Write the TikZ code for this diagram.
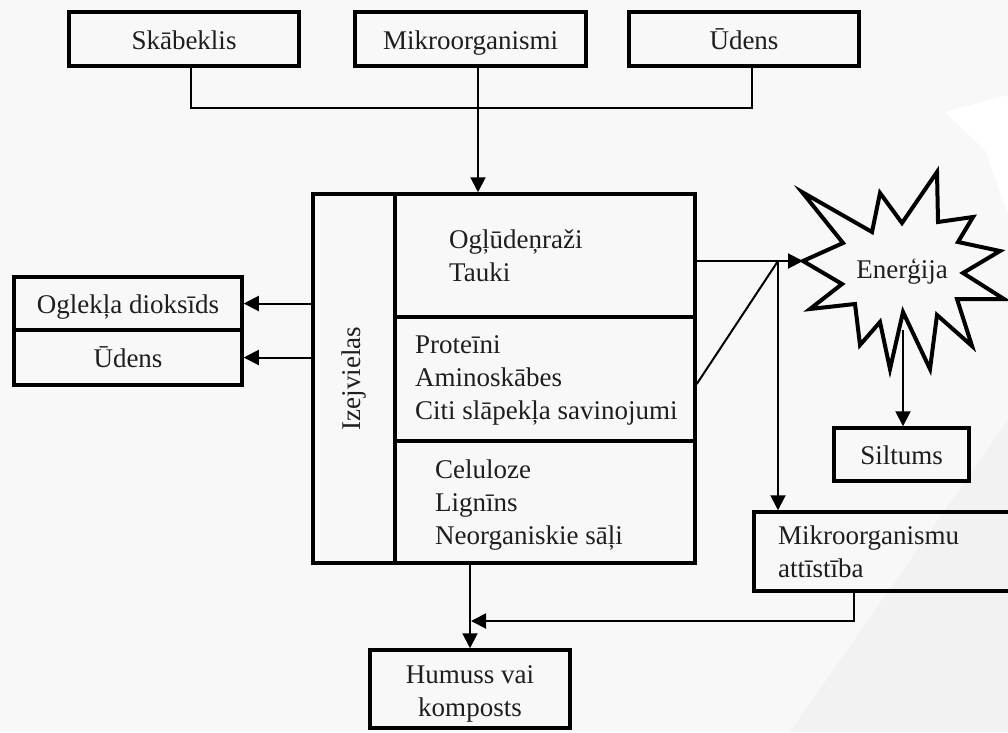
\documentclass[tikz,border=0pt]{standalone}
\usepackage{fontspec}
\setmainfont{Liberation Serif}
\usetikzlibrary{arrows.meta}
\definecolor{bggray}{HTML}{F8F8F8}
\definecolor{inkgray}{HTML}{1E1E1E}

\begin{document}
\begin{tikzpicture}[x=1pt,y=-1pt,
  font=\fontsize{27}{33}\selectfont,
  box/.style={draw,line width=3.5pt,inner sep=0pt,align=center,text=inkgray},
  oneline/.style={text height=24pt,text depth=4pt},
  conn/.style={line width=2pt},
  arr/.style={line width=2pt,-{Triangle[length=15pt,width=15pt]}},
  txt/.style={anchor=west,align=left,inner sep=0pt,text=inkgray}]
\useasboundingbox (0,0) rectangle (1008,732);
\fill[bggray] (0,0) rectangle (1008,732);
\clip (0,0) rectangle (1008,732);
% faint watermark at the right
\fill[black!5] (790,732) -- (1008,420) -- (1008,732) -- cycle;
\fill[white] (945,112) -- (1008,95) -- (1008,215) -- (985,150) -- cycle;

% inputs
\node[box,oneline,minimum width=230pt,minimum height=54pt] (skab) at (184,39) {Skābeklis};
\node[box,oneline,minimum width=231pt,minimum height=54pt] (mikro) at (470.5,39) {Mikroorganismi};
\node[box,oneline,minimum width=230pt,minimum height=54pt] (udens) at (744,39) {Ūdens};

% raw materials
\node[box,minimum width=82pt,minimum height=369pt] (izej) at (354,378.5) {\rotatebox{90}{Izejvielas}};
\node[box,minimum width=300pt,minimum height=123pt] (grpa) at (545,255.5) {};
\node[box,minimum width=300pt,minimum height=124pt] (grpb) at (545,379) {};
\node[box,minimum width=300pt,minimum height=122pt] (grpc) at (545,502) {};
\node[txt] (ta) at (449,256) {Ogļūdeņraži\\Tauki};
\node[txt] (tb) at (415,380) {Proteīni\\Aminoskābes\\Citi slāpekļa savinojumi};
\node[txt] (tc) at (435,505) {Celuloze\\Lignīns\\Neorganiskie sāļi};

% outputs on the left
\node[box,oneline,minimum width=228pt,minimum height=53pt] (ogl) at (128,303.5) {Oglekļa dioksīds};
\node[box,oneline,minimum width=228pt,minimum height=55pt] (udl) at (128,357.5) {Ūdens};

% energy
\draw[line width=4pt,line join=miter] (803,261) -- (843,243) -- (802,192) -- (872,232)
  -- (880,193) -- (902,223) -- (937,172) -- (938,222) -- (973,217) -- (958,242)
  -- (1000,251) -- (963,273) -- (1004,299) -- (957,299) -- (972,346) -- (937,315)
  -- (930,369) -- (903,312) -- (890,369) -- (880,322) -- (860,345) -- (855,304)
  -- (810,309) -- (842,284) -- cycle;
\node[text=inkgray] (energ) at (902,272) {Enerģija};
\coordinate (starw) at (803,261);
\coordinate (stars) at (903,330);
\node[box,oneline,minimum width=135pt,minimum height=53pt] (silt) at (901.5,454.5) {Siltums};
\node[box,minimum width=276pt,minimum height=79pt] (mat) at (892,551.5) {};
\node[txt] (tmat) at (778,552) {Mikroorganismu\\attīstība};
\node[box,minimum width=200pt,minimum height=78pt] (hum) at (470,689) {};
\node[text=inkgray,align=center,inner sep=0pt] (thum) at (470,694) {Humuss vai\\komposts};

% connectors
\coordinate (mk) at ([xshift=7.5pt]mikro.south);
\coordinate (jn) at (778,261);
\coordinate (mb) at ([xshift=-38pt]mat.south);
\coordinate (mrg) at (471,621);
\draw[conn] ([xshift=7pt]skab.south) -- ++(0,40) -| ([xshift=8pt]udens.south);
\draw[arr] (mk) -- (mk |- grpa.north);
\draw[arr] (izej.west |- ogl.east) -- (ogl.east);
\draw[arr] (izej.west |- udl.east) -- (udl.east);
\draw[arr] (grpa.east |- starw) -- (starw);
\draw[conn] ([yshift=-5pt]grpb.east) -- (jn);
\draw[arr] (jn) -- (jn |- mat.north);
\draw[arr] (stars) -- (stars |- silt.north);
\draw[arr] (izej.south -| hum.north) -- (hum.north);
\draw[arr] (mb) |- (mrg);
\end{tikzpicture}
\end{document}
